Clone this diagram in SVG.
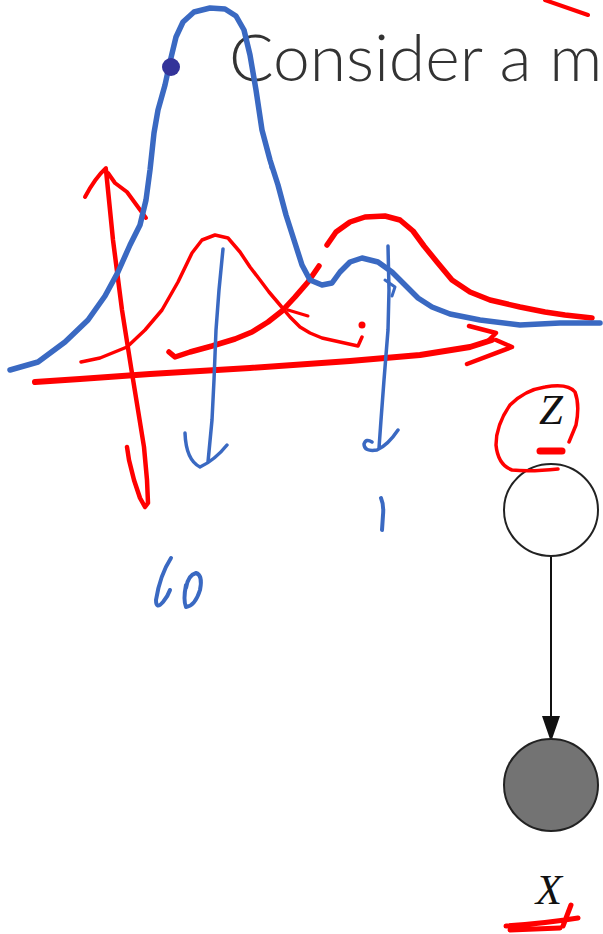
<svg xmlns="http://www.w3.org/2000/svg" width="603" height="934" viewBox="0 0 603 934">
<defs>
<style>
.ink{fill:none;stroke-linecap:round;stroke-linejoin:round}
.blue{stroke:#3a69c2}
.red{stroke:#ff0000}
.node{stroke:#222;stroke-width:2}
.lbl{font-family:"Liberation Serif",serif;font-style:italic;font-size:43px;fill:#111;text-anchor:middle}
</style>
<marker id="arr" markerWidth="26" markerHeight="18" refX="26" refY="9" orient="auto" markerUnits="userSpaceOnUse">
<path d="M0,0 L26,9 L0,18 Z" fill="#111"/>
</marker>
</defs>
<rect width="603" height="934" fill="#fff"/>
<text x="229" y="81" font-family="Lato, sans-serif" font-weight="300" font-size="66" fill="#333">Consider a m</text>
<g id="connectors">
<line x1="551" y1="557" x2="551" y2="742" stroke="#111" stroke-width="2" marker-end="url(#arr)"/>
</g>
<g id="node-z">
<ellipse cx="551" cy="510" rx="47" ry="46" fill="#fff" class="node"/>
<text class="lbl" x="551" y="424">Z</text>
</g>
<g id="node-x">
<ellipse cx="551" cy="785" rx="47" ry="46" fill="#737373" class="node"/>
<text class="lbl" x="549" y="904">X</text>
</g>
<g id="annotations">
<path class="ink red" stroke-width="4" d="M545,0 L588,15"/>
<path class="ink red" stroke-width="6" d="M35,382 L80,379 L150,374 L250,368 L350,361 L420,355 L470,347 L492,340"/>
<path class="ink red" stroke-width="4.5" d="M469,326 L496,333 L488,341 M496,340 L512,347 L467,364"/>
<path class="ink red" stroke-width="4.5" d="M106,170 L113,240 L122,310 L131,367 L138,410 L144,447 L147,480 L148,503 L145,507 L140,498 L134,480 L129,460 L127,447"/>
<path class="ink red" stroke-width="4" d="M85,197 Q95,178 106,168 M108,173 L115,183 L127,192 L146,218"/>
<path class="ink red" stroke-width="3.5" d="M81,362 L100,358 L127,347 L145,330 L162,310 L178,282 L192,253 L202,240 L215,235 L228,238 L240,252 L250,267 L260,280 L269,292 L280,305 L290,317 L300,327 L310,333 L322,338 L340,342 L358,346 L362,337"/>
<circle cx="362" cy="325" r="3.5" fill="#ff0000"/>
<path class="ink red" stroke-width="3" d="M288,310 L308,316"/>
<path class="ink red" stroke-width="5.5" d="M169,352 L175,357 L190,352 L212,346 L235,339 L252,332 L268,322 L282,311 L295,297 L308,282 L319,266 M327,245 L336,232 L350,222 L365,217 L385,216 L400,220 L413,231 L424,246 L437,262 L452,280 L470,292 L490,300 L520,307 L545,312 L565,315 L592,318"/>
<path class="ink blue" stroke-width="5.5" d="M10,370 L38,362 L65,342 L88,320 L105,296 L118,272 L130,245 L140,225 L146,200 L150,170 L154,133 L158,110 L165,85 L170,62 L176,37 L183,22 L194,12 L210,8 L225,9 L236,16 L244,30 L250,55 L256,90 L262,130 L270,160 L278,185 L286,215 L294,240 L302,265 L310,280 L322,285 L332,283 L340,272 L350,262 L362,258 L378,262 L392,272 L405,285 L418,298 L432,307 L450,314 L480,320 L520,325 L560,323 L600,323"/>
<path class="ink blue" stroke-width="3" d="M268,150 L271,168"/>
<circle cx="171" cy="67" r="9" fill="#333399"/>
<path class="ink blue" stroke-width="3.5" d="M223,249 L219,290 L216,330 L214,380 L212,420 L208,462 M185,433 Q186,460 200,467 Q215,460 227,445"/>
<path class="ink blue" stroke-width="3.5" d="M388,246 L389,290 L388,330 L384,380 L381,420 L379,448 M398,430 Q388,445 377,450 Q364,452 364,444 Q366,438 372,442"/>
<path class="ink blue" stroke-width="3" d="M385,280 L395,287 L392,296"/>
<path class="ink blue" stroke-width="4" d="M381,498 Q384,505 383,515 L382,530"/>
<path class="ink blue" stroke-width="4" d="M171,558 Q160,575 156,600 Q156,610 163,602 Q168,596 170,590 M186,585 Q183,600 186,607 Q195,606 200,590 Q203,575 196,573 Q188,575 186,588"/>
<path class="ink red" stroke-width="3.5" d="M558,469 Q530,472 512,470 Q498,465 496,445 Q496,425 510,405 Q525,390 545,387 Q568,383 575,392 Q580,405 576,425 L569,442"/>
<path class="ink red" stroke-width="7" d="M540,451 L562,451"/>
<path class="ink red" stroke-width="5" d="M506,926 Q540,924 578,918 M510,930 L560,928 M563,926 L571,905"/>
</g>
</svg>
